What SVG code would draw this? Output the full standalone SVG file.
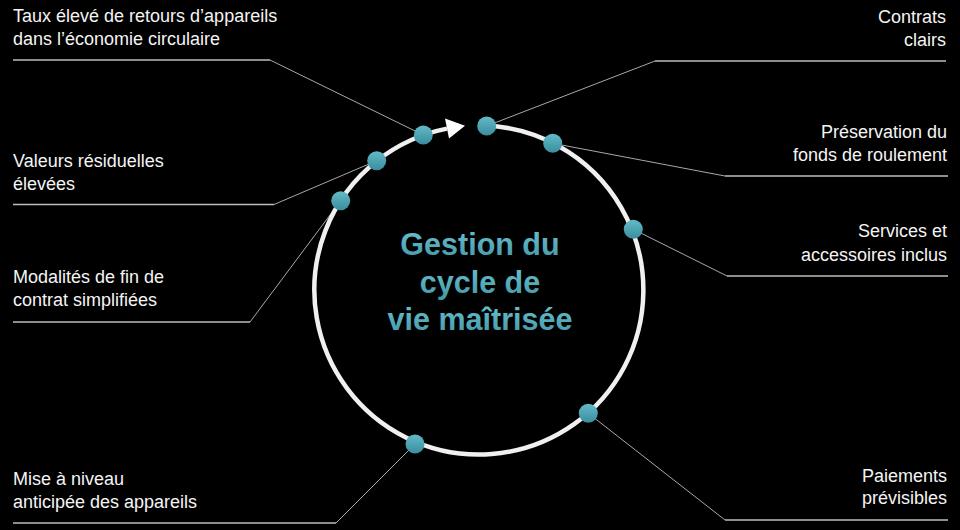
<svg xmlns="http://www.w3.org/2000/svg" width="960" height="530" viewBox="0 0 960 530">
  <defs>
    <linearGradient id="dotGrad" x1="0" y1="0" x2="0" y2="1">
      <stop offset="0" stop-color="#62bac8"/>
      <stop offset="1" stop-color="#3a8d9d"/>
    </linearGradient>
    <linearGradient id="titleGrad" x1="0" y1="0" x2="0" y2="1">
      <stop offset="0" stop-color="#6cc2cf"/>
      <stop offset="1" stop-color="#4398a8"/>
    </linearGradient>
    <style>
      .lbl { font-family: "Liberation Sans", Arial, sans-serif; font-size: 18px; fill: #f4f4f4; }
      .r { text-anchor: end; }
      .title { font-family: "Liberation Sans", Arial, sans-serif; font-size: 30.5px; font-weight: bold; fill: url(#titleGrad); text-anchor: middle; }
      .under { stroke: #bdbdbd; stroke-width: 1.4; fill: none; }
      .lead { stroke: #a8a8a8; stroke-width: 1; fill: none; }
      .dot { fill: url(#dotGrad); }
    </style>
  </defs>
  <rect x="0" y="0" width="960" height="530" fill="#000"/>

  <g id="connectors">
    <polyline class="under" points="13,60 270,60"/>
    <line class="lead" x1="270" y1="60" x2="423.3" y2="135"/>
    <polyline class="under" points="13,204.5 274,204.5"/>
    <line class="lead" x1="274" y1="204.5" x2="376.7" y2="160.7"/>
    <polyline class="under" points="13,322 250,322"/>
    <line class="lead" x1="250" y1="322" x2="340.7" y2="200.7"/>
    <polyline class="under" points="13,523 336,523"/>
    <line class="lead" x1="336" y1="523" x2="415" y2="444"/>
    <polyline class="under" points="655,61 946,61"/>
    <line class="lead" x1="655" y1="61" x2="486.7" y2="126"/>
    <polyline class="under" points="725,176 948,176"/>
    <line class="lead" x1="725" y1="176" x2="552.7" y2="143.3"/>
    <polyline class="under" points="727,276 948,276"/>
    <line class="lead" x1="727" y1="276" x2="633.3" y2="229.3"/>
    <polyline class="under" points="725,520 948,520"/>
    <line class="lead" x1="725" y1="520" x2="588.3" y2="413.3"/>
  </g>

  <g id="cycle">
    <path d="M 485 125.6 A 164.5 164.5 0 1 1 447 128.6" fill="none" stroke="#f0f0f0" stroke-width="4.5"/>
    <polygon points="465,125.8 445,118.6 449,138.4" fill="#ffffff"/>
  </g>

  <g id="title">
    <text class="title" x="480" y="255">Gestion du</text>
    <text class="title" x="480" y="292.5">cycle de</text>
    <text class="title" x="480" y="330">vie maîtrisée</text>
  </g>

  <g id="node-retours">
    <circle class="dot" cx="423.3" cy="135" r="9.5"/>
    <text class="lbl" x="13" y="22">Taux élevé de retours d’appareils</text>
    <text class="lbl" x="13" y="45">dans l’économie circulaire</text>
  </g>
  <g id="node-valeurs">
    <circle class="dot" cx="376.7" cy="160.7" r="9.5"/>
    <text class="lbl" x="13" y="167">Valeurs résiduelles</text>
    <text class="lbl" x="13" y="190">élevées</text>
  </g>
  <g id="node-modalites">
    <circle class="dot" cx="340.7" cy="200.7" r="9.5"/>
    <text class="lbl" x="13" y="283">Modalités de fin de</text>
    <text class="lbl" x="13" y="306">contrat simplifiées</text>
  </g>
  <g id="node-mise">
    <circle class="dot" cx="415" cy="444" r="9.5"/>
    <text class="lbl" x="13" y="485">Mise à niveau</text>
    <text class="lbl" x="13" y="508">anticipée des appareils</text>
  </g>
  <g id="node-contrats">
    <circle class="dot" cx="486.7" cy="126" r="9.5"/>
    <text class="lbl r" x="946" y="23">Contrats</text>
    <text class="lbl r" x="946" y="46">clairs</text>
  </g>
  <g id="node-preservation">
    <circle class="dot" cx="552.7" cy="143.3" r="9.5"/>
    <text class="lbl r" x="947" y="138">Préservation du</text>
    <text class="lbl r" x="947" y="161">fonds de roulement</text>
  </g>
  <g id="node-services">
    <circle class="dot" cx="633.3" cy="229.3" r="9.5"/>
    <text class="lbl r" x="947" y="237">Services et</text>
    <text class="lbl r" x="947" y="261">accessoires inclus</text>
  </g>
  <g id="node-paiements">
    <circle class="dot" cx="588.3" cy="413.3" r="9.5"/>
    <text class="lbl r" x="947" y="482">Paiements</text>
    <text class="lbl r" x="947" y="504">prévisibles</text>
  </g>
</svg>
